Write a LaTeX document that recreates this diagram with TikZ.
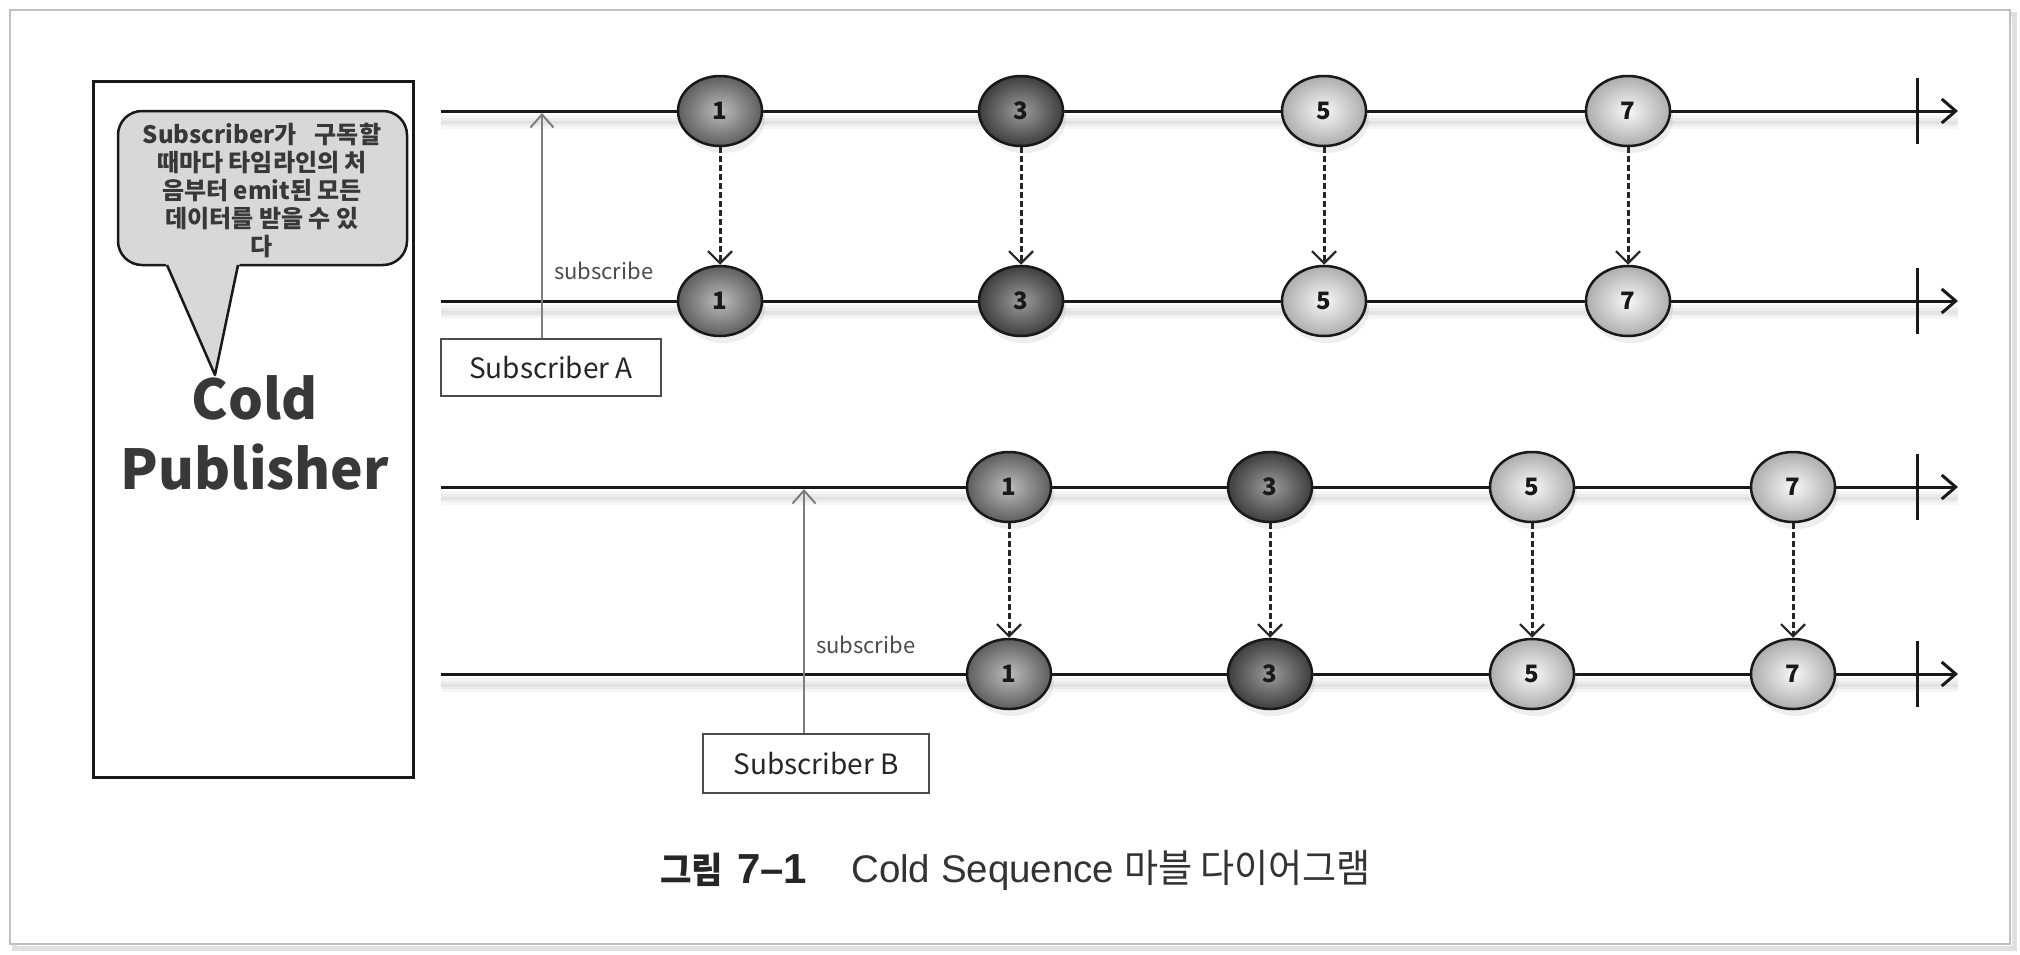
\documentclass[tikz,border=0pt]{standalone}
\usepackage{fontspec}
\setmainfont{Noto Sans CJK KR}
\newfontfamily\lcap{Liberation Sans}
\newfontfamily\hcap[FakeStretch=0.95]{Noto Sans CJK KR}
\usetikzlibrary{arrows.meta,shadows,shapes.geometric}
\definecolor{mA}{HTML}{BCBCBC}\definecolor{mAo}{HTML}{5E5E5E}
\definecolor{mB}{HTML}{9C9C9C}\definecolor{mBo}{HTML}{3E3E3E}
\definecolor{mC}{HTML}{F8F8F8}\definecolor{mCo}{HTML}{ADADAD}
\definecolor{callfill}{HTML}{D8D8D8}
\definecolor{txt}{HTML}{383838}
\definecolor{subgray}{HTML}{7E7E7E}
\tikzset{
  tline/.style={line width=3pt,draw=black!90},
  lshadowA/.style={line width=14pt,draw=black,opacity=0.035},
  lshadowB/.style={line width=8pt,draw=black,opacity=0.04},
  lshadowC/.style={line width=3pt,draw=black,opacity=0.04},
  marble/.style={ellipse,draw=black!90,line width=2.5pt,minimum width=84pt,minimum height=70pt,inner sep=0pt,
     font=\fontsize{24}{24}\selectfont\bfseries,text=black!90,
     drop shadow={shadow xshift=3pt,shadow yshift=-7pt,opacity=0.13}},
  mk1/.style={marble,inner color=mA,outer color=mAo},
  mk3/.style={marble,inner color=mB,outer color=mBo},
  mk5/.style={marble,inner color=mC,outer color=mCo},
  emit/.style={line width=3pt,draw=black!85,dash pattern=on 6pt off 3pt,-{Straight Barb[length=12pt,width=24pt,line width=2.2pt]}},
  endarrow/.style={tline,-{Straight Barb[length=14pt,width=24pt,line width=3pt]}},
  subarrow/.style={line width=2pt,draw=subgray,-{Straight Barb[length=13pt,width=23pt,line width=2pt]}},
  subbox/.style={draw=black!70,line width=1.5pt,fill=white,inner sep=0pt,font=\fontsize{28}{28}\selectfont,text=black!85},
  sublabel/.style={anchor=west,font=\fontsize{22}{22}\selectfont,text=black!70,inner sep=0pt},
}
\begin{document}
\begin{tikzpicture}[x=1pt,y=-1pt]
\useasboundingbox (0,0) rectangle (2020,954);
\fill[white] (0,0) rectangle (2020,954);
% outer frame
\draw[black!12,line width=5pt] (14,14) rectangle (2014,948);
\draw[black!25,line width=1.5pt,fill=white] (10,10) rectangle (2010,944);
% Cold Publisher box
\node[draw=black!90,line width=3pt,minimum width=320pt,minimum height=696pt,inner sep=0pt] (pub) at (253,429) {};
\fill[callfill,draw=black!90,line width=2.5pt,rounded corners=24pt] (118,111) rectangle (407,265);
\fill[callfill] (165,262) -- (240,262) -- (215,375) -- cycle;
\coordinate (tipA) at (167,265);
\coordinate (tip) at (215,375);
\coordinate (tipB) at (238,265);
\draw[black!90,line width=2.5pt,line join=round] (tipA) -- (tip) -- (tipB);
\node[align=center,text=txt,font=\fontsize{24}{28}\selectfont\bfseries,inner sep=0pt] (call) at (262,190)
  {Subscriber가\hspace{18pt}구독할\\때마다 타임라인의 처\\음부터 emit된 모든\\데이터를 받을 수 있\\다};
\node[text=txt,font=\fontsize{55}{55}\selectfont\bfseries,inner sep=0pt] (cold) at (255,398) {Cold};
\node[text=txt,font=\fontsize{55}{55}\selectfont\bfseries,inner sep=0pt] (publ) at (255,467) {Publisher};
% timelines
\foreach \y/\n in {111/1,301/2,487/3,674/4}{
  \coordinate (s\n) at (441,\y);
  \coordinate (e\n) at (1958,\y);
  \coordinate (bar\n) at (1917,\y);
  \draw[lshadowA] ([yshift=-11pt]s\n) -- ([yshift=-11pt]e\n);
  \draw[lshadowB] ([yshift=-11pt]s\n) -- ([yshift=-11pt]e\n);
  \draw[lshadowC] ([yshift=-11pt]s\n) -- ([yshift=-11pt]e\n);
  \draw[endarrow] (s\n) -- (e\n);
  \draw[tline] ([yshift=33pt]bar\n) -- ([yshift=-33pt]bar\n);
}
% marbles
\foreach \x/\k/\s in {720/1/mk1,1021/2/mk3,1324/3/mk5,1628/4/mk5}{
  \pgfmathtruncatemacro{\lab}{2*\k-1}
  \node[\s] (a\k) at (\x,111) {\lab};
  \node[\s] (b\k) at (\x,301) {\lab};
  \draw[emit] (a\k.south) -- (b\k.north);
}
\foreach \x/\k/\s in {1009/1/mk1,1270/2/mk3,1532/3/mk5,1793/4/mk5}{
  \pgfmathtruncatemacro{\lab}{2*\k-1}
  \node[\s] (c\k) at (\x,487) {\lab};
  \node[\s] (d\k) at (\x,674) {\lab};
  \draw[emit] (c\k.south) -- (d\k.north);
}
% subscribers
\node[subbox,minimum width=220pt,minimum height=57pt] (subA) at (551,367.5) {Subscriber A};
\coordinate (hitA) at (542,113);
\draw[subarrow] (subA.north -| hitA) -- (hitA);
\node[sublabel] (labA) at (554,271) {subscribe};
\node[subbox,minimum width=226pt,minimum height=59pt] (subB) at (816,763.5) {Subscriber B};
\coordinate (hitB) at (804,489);
\draw[subarrow] (subB.north -| hitB) -- (hitB);
\node[sublabel] (labB) at (816,645) {subscribe};
% caption
\node[anchor=west,inner sep=0pt,text=black!85] (fig) at (660,870)
  {{\hcap\fontsize{36}{36}\selectfont\bfseries 그림}\hspace{14pt}{\lcap\fontsize{42}{42}\selectfont\bfseries 7–1}};
\node[anchor=west,inner sep=0pt,text=black!80] (cap) at (851,870)
  {{\lcap\fontsize{38.5}{38.5}\selectfont Cold Sequence}\hspace{10pt}{\hcap\fontsize{39}{39}\selectfont 마블\hspace{8pt}다이어그램}};
\end{tikzpicture}
\end{document}
